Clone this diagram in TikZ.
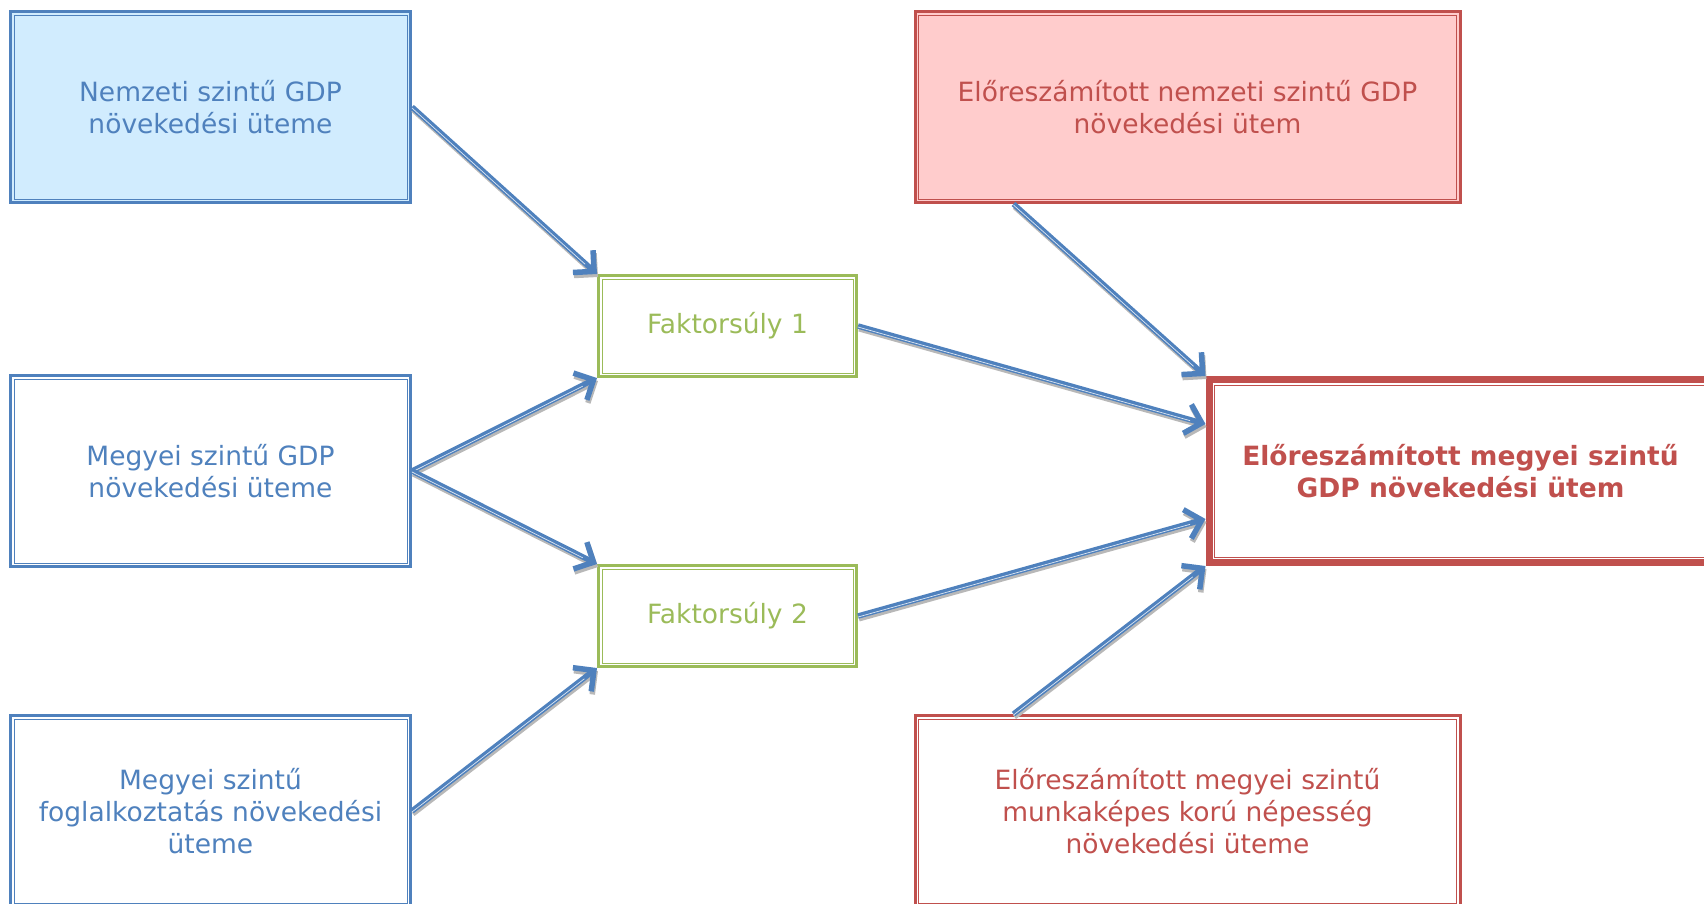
\documentclass[tikz,border=0pt]{standalone}
\usepackage{fontspec}
\setmainfont{DejaVu Sans}
\usetikzlibrary{positioning, arrows.meta}

\definecolor{officeblue}{HTML}{4F81BD}
\definecolor{officegreen}{HTML}{9BBB59}
\definecolor{officered}{HTML}{C0504D}
\definecolor{paleblue}{HTML}{D1ECFE}
\definecolor{palered}{HTML}{FFCCCC}

\begin{document}
\begin{tikzpicture}[x=1pt, y=-1pt, on grid]
        \tikzset{
          box/.style 2 args={rectangle, draw=#1, text=#1, line width=3pt, align=center,
            inner sep=0pt, minimum width=400pt, minimum height=191pt,
            font=\fontsize{26.5}{32}\selectfont,
            path picture={\draw[#1, line width=1pt]
              ([shift={(#2,-#2)}]path picture bounding box.north west) rectangle
              ([shift={(-#2,#2)}]path picture bounding box.south east);}},
          weight/.style={box={officegreen}{3.5pt}, minimum width=258pt, minimum height=101pt},
          result/.style={box={officered}{5.5pt}, line width=7pt, minimum width=503pt,
            minimum height=183pt, font=\fontsize{26.5}{32}\selectfont\bfseries},
          tip/.style={-{Straight Barb[length=15pt, width=30pt, line width=5.5pt]}},
          flow/.style={draw=officeblue, line width=5.5pt, tip,
            preaction={draw=black!28, line width=5pt, tip,
              transform canvas={shift={(1pt,-3pt)}}},
            postaction={draw=white!80!officeblue, line width=0.7pt, -, shorten >=16pt,
              transform canvas={shift={(0pt,-1pt)}}}}
        }
        \useasboundingbox (0,0) rectangle (1704,903);
        \clip (0,0) rectangle (1704,903);

        % inputs on the left
        \node[box={officeblue}{3.5pt}, fill=paleblue] (nat) at (210.5,107) {Nemzeti szintű GDP\\növekedési üteme};
        \node[box={officeblue}{3.5pt}] (cty) [below=364pt of nat] {Megyei szintű GDP\\növekedési üteme};
        \node[box={officeblue}{3.5pt}] (emp) [below=340pt of cty] {Megyei szintű\\foglalkoztatás növekedési\\üteme};

        % weights
        \node[weight] (w1) [above right=145pt and 517pt of cty] {Faktorsúly 1};
        \node[weight] (w2) [below=290pt of w1] {Faktorsúly 2};

        % forecasts on the right
        \node[box={officered}{3.5pt}, fill=palered, minimum width=545pt] (fnat) [right=977pt of nat] {Előreszámított nemzeti szintű GDP\\növekedési ütem};
        \node[box={officered}{3.5pt}, minimum width=545pt] (fpop) [right=977pt of emp] {Előreszámított megyei szintű\\munkaképes korú népesség\\növekedési üteme};
        \node[result] (res) [right=1250pt of cty] {Előreszámított megyei szintű\\GDP növekedési ütem};

        \coordinate (fnatfoot) at ([xshift=100pt]fnat.south west);
        \coordinate (fpopfoot) at ([xshift=100pt]fpop.north west);
        \coordinate (resin1) at ([yshift=47pt]res.west);
        \coordinate (resin2) at ([yshift=-48pt]res.west);

        \path
        (nat.east) edge[flow] (w1.north west)
        (cty.east) edge[flow] (w1.south west)
        (cty.east) edge[flow] (w2.north west)
        (emp.east) edge[flow] (w2.south west)
        (w1.east) edge[flow] (resin1)
        (w2.east) edge[flow] (resin2)
        (fnatfoot) edge[flow] (res.north west)
        (fpopfoot) edge[flow] (res.south west);
    \end{tikzpicture}
\end{document}
